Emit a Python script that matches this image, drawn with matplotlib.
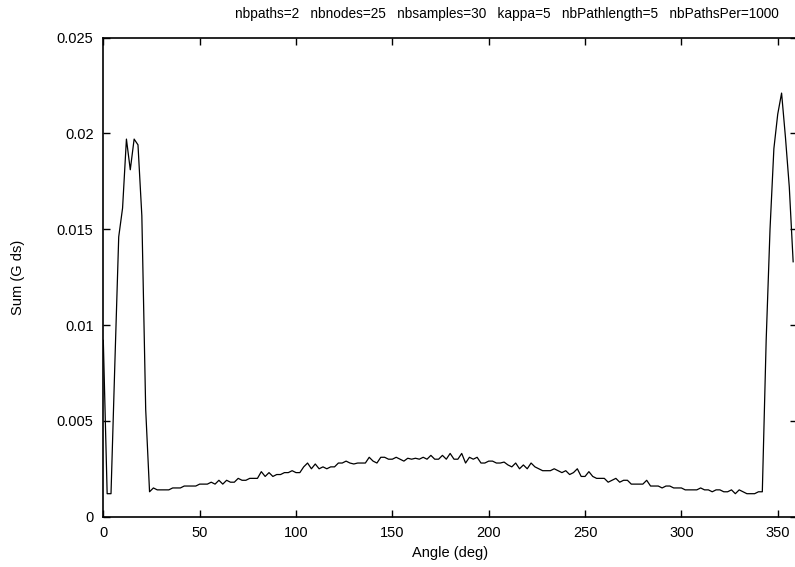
import numpy as np
import matplotlib
matplotlib.use("Agg")
import matplotlib.pyplot as plt

plt.rcParams['font.family'] = ['Liberation Sans', 'DejaVu Sans']

title = "nbpaths=2   nbnodes=25   nbsamples=30   kappa=5   nbPathlength=5   nbPathsPer=1000"
xlabel = "Angle (deg)"
ylabel = "Sum (G ds)"

angles = np.arange(0, 360, 2)
values = [
    0.0092, 0.0012, 0.0012, 0.0080, 0.0146, 0.0161, 0.0197, 0.0181, 0.0197, 0.0194,
    0.0157, 0.0056, 0.0013, 0.0015, 0.0014, 0.0014, 0.0014, 0.0014, 0.0015, 0.0015,
    0.0015, 0.0016, 0.0016, 0.0016, 0.0016, 0.0017, 0.0017, 0.0017, 0.0018, 0.0017,
    0.0019, 0.0017, 0.0019, 0.0018, 0.0018, 0.0020, 0.0019, 0.0019, 0.0020, 0.0020,
    0.0020, 0.00235, 0.0021, 0.0023, 0.0021, 0.0022, 0.0022, 0.0023, 0.0023, 0.0024,
    0.0023, 0.0023, 0.0026, 0.0028, 0.0025, 0.00275, 0.0025, 0.0026, 0.0025, 0.0026,
    0.0026, 0.0028, 0.0028, 0.0029, 0.0028, 0.00275, 0.0028, 0.0028, 0.0028, 0.0031,
    0.0029, 0.0028, 0.0031, 0.0031, 0.0030, 0.0030, 0.0031, 0.0030, 0.0029, 0.00305,
    0.0030, 0.00305, 0.0030, 0.0031, 0.0030, 0.0032, 0.0030, 0.0030, 0.0032, 0.0030,
    0.0033, 0.0030, 0.0030, 0.0033, 0.0028, 0.0031, 0.0030, 0.0031, 0.0028, 0.0028,
    0.0029, 0.0029, 0.0028, 0.0028, 0.00285, 0.0027, 0.0026, 0.0028, 0.0025, 0.0027,
    0.0025, 0.0028, 0.0026, 0.0025, 0.0024, 0.0024, 0.0024, 0.0025, 0.0024, 0.0023,
    0.0024, 0.0022, 0.0023, 0.0025, 0.0021, 0.0021, 0.00235, 0.0021, 0.0020, 0.0020,
    0.0020, 0.0018, 0.0019, 0.0020, 0.0018, 0.0019, 0.0019, 0.0017, 0.0017, 0.0017,
    0.0017, 0.0019, 0.0016, 0.0016, 0.0016, 0.0015, 0.0016, 0.0016, 0.0015, 0.0015,
    0.0015, 0.0014, 0.0014, 0.0014, 0.0014, 0.0015, 0.0014, 0.0014, 0.0013, 0.0014,
    0.0014, 0.0013, 0.0013, 0.0014, 0.0012, 0.0014, 0.0013, 0.0012, 0.0012, 0.0012,
    0.0013, 0.0013, 0.0092, 0.0150, 0.0192, 0.0210, 0.0221, 0.0198, 0.0172, 0.0133,
]

xticks = [0, 50, 100, 150, 200, 250, 300, 350]
yticks = [0, 0.005, 0.01, 0.015, 0.02, 0.025]
ytick_labels = ["0", "0.005", "0.01", "0.015", "0.02", "0.025"]

fig = plt.figure(figsize=(7.95, 5.67), dpi=100)
W, H = 795, 567
left, right, top, bottom = 103.3, 797.0, 37.5, 516.7
ax = fig.add_axes([left / W, (H - bottom) / H, (right - left) / W, (bottom - top) / H])

ax.plot(angles, values, color='black', linewidth=0.9)
ax.set_xlim(0, 360)
ax.set_ylim(0, 0.025)
ax.set_xticks(xticks)
ax.set_xticklabels([str(t) for t in xticks])
ax.set_yticks(yticks)
ax.set_yticklabels(ytick_labels)
ax.tick_params(direction='in', top=True, right=True, length=5, width=1.0,
               labelsize=10.5, pad=7)
for s in ax.spines.values():
    s.set_linewidth(1.2)

ax.set_xlabel(xlabel, fontsize=10.5, labelpad=4)
ax.set_ylabel(ylabel, fontsize=10.5, labelpad=23)
fig.text(507 / W, 1 - 14 / H, title, ha='center', va='center', fontsize=9.8)

fig.savefig("out.png", dpi=100)
